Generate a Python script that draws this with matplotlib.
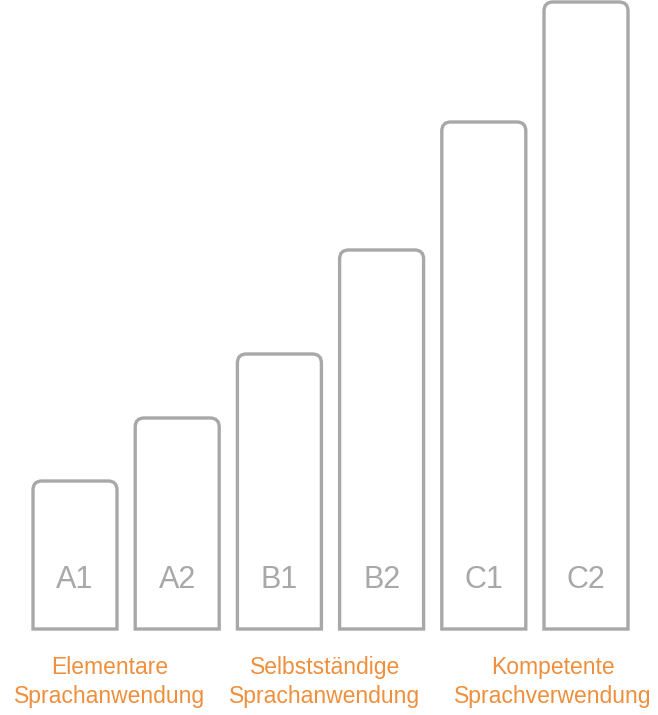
import matplotlib
matplotlib.use("Agg")
import matplotlib.pyplot as plt
from matplotlib.path import Path
from matplotlib.patches import PathPatch

levels = ["A1", "A2", "B1", "B2", "C1", "C2"]
heights = [148, 211, 275, 379, 507, 627]
groups = ["Elementare\nSprachanwendung", "Selbstständige\nSprachanwendung", "Kompetente\nSprachverwendung"]

W, H = 658, 715
fig = plt.figure(figsize=(W/100, H/100), dpi=100)
ax = fig.add_axes([0, 0, 1, 1])
ax.set_xlim(0, W); ax.set_ylim(H, 0); ax.axis("off")

gray = "#a8a8a8"; orange = "#ef8f3c"
base = 629; x0 = 33; step = 102.2; bw = 84; r = 9
for i, (lab, h) in enumerate(zip(levels, heights)):
    l = x0 + i*step; rr = l + bw; t = base - h
    verts = [(l, base), (l, t+r), (l, t), (l+r, t), (rr-r, t), (rr, t), (rr, t+r), (rr, base), (l, base)]
    codes = [Path.MOVETO, Path.LINETO, Path.CURVE3, Path.CURVE3, Path.LINETO, Path.CURVE3, Path.CURVE3, Path.LINETO, Path.CLOSEPOLY]
    ax.add_patch(PathPatch(Path(verts, codes), facecolor="white", edgecolor=gray, lw=2.4, joinstyle="miter"))
    ax.text(l + bw/2, 580, lab, ha="center", va="center", fontsize=22, color=gray, family="Liberation Sans")

label_x = [110, 325, 553]
for cx, g in zip(label_x, groups):
    ax.text(cx, 682, g, ha="center", va="center", fontsize=16.5, color=orange, linespacing=1.35,
            family="Liberation Sans")

fig.savefig("out.png", dpi=100, facecolor="white")
